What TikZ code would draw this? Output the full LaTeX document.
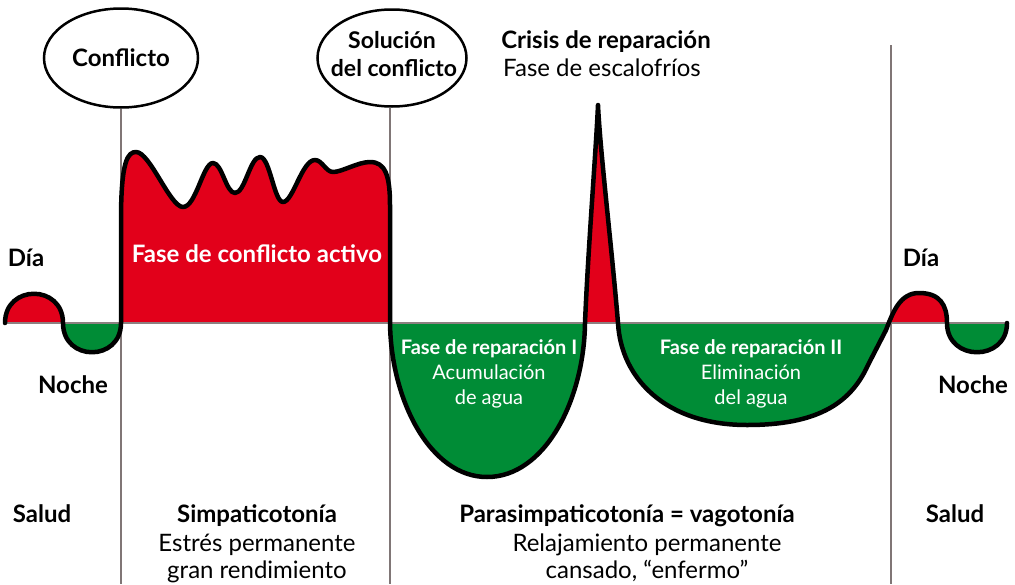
\documentclass[tikz,border=0pt]{standalone}
\usepackage{fontspec}
\setmainfont{Lato}
\usetikzlibrary{shapes.geometric}
\definecolor{myred}{RGB}{226,0,26}
\definecolor{mygreen}{RGB}{0,140,54}
\definecolor{vgray}{RGB}{128,118,118}
\definecolor{hgray}{RGB}{140,128,128}
\newcommand\wavecurve{(5,323) .. controls (5,284) and (63,284) .. (63,323)
 .. controls (63,362) and (121,362) .. (121,323)
 -- (121,220) .. controls (121,160) and (128,152) .. (136,152)
 .. controls (150,152) and (170,207) .. (183,207)
 .. controls (196,207) and (203,163) .. (213,163)
 .. controls (222,163) and (226,193) .. (235,193)
 .. controls (245,193) and (250,157) .. (260,157)
 .. controls (270,157) and (274,202) .. (283,202)
 .. controls (293,202) and (302,160) .. (315,160)
 .. controls (322,160) and (326,172) .. (333,172)
 .. controls (342,172) and (358,162) .. (370,162)
 .. controls (385,162) and (390,175) .. (390,205)
 -- (390,323)
 .. controls (391,400) and (430,477) .. (487,477)
 .. controls (545,477) and (584,400) .. (585,323)
 .. controls (588,250) and (596,150) .. (598,105)
 .. controls (600,150) and (612,250) .. (618,323)
 .. controls (621,378) and (665,425) .. (747,425)
 .. controls (815,425) and (850,405) .. (868,365)
 -- (886,330) .. controls (893,312) and (900,293) .. (919,293)
 .. controls (940,293) and (947,305) .. (947,323)
 .. controls (947,362) and (1007,362) .. (1007,323)}
\tikzset{
 bt/.style={font=\fontsize{24}{28}\selectfont\bfseries, inner sep=0pt, anchor=base},
 rt/.style={font=\fontsize{24}{28}\selectfont, inner sep=0pt, anchor=base},
 bm/.style={font=\fontsize{23}{28}\selectfont\bfseries, inner sep=0pt, anchor=base},
 bs/.style={font=\fontsize{20}{25}\selectfont\bfseries, inner sep=0pt, anchor=base, text=white},
 rs/.style={font=\fontsize{20}{25}\selectfont, inner sep=0pt, anchor=base, text=white},
 oval/.style={ellipse, draw=black, line width=2.5pt, inner sep=-30pt, align=center},
 vline/.style={draw=vgray, line width=2pt},
 hline/.style={draw=hgray, line width=2pt},
 wave/.style={draw=black, line width=4.5pt, line join=round, line cap=round}
}
\begin{document}
\begin{tikzpicture}[x=1pt,y=-1pt]
\useasboundingbox (0,0) rectangle (1015,584);
% fills
\begin{scope}
 \clip (0,0) rectangle (1015,323);
 \fill[myred] \wavecurve -- cycle;
\end{scope}
\begin{scope}
 \clip (0,323) rectangle (1015,584);
 \fill[mygreen] \wavecurve -- cycle;
\end{scope}
% ellipses
\node[oval, minimum width=154pt, minimum height=99pt, font=\fontsize{24}{28}\selectfont\bfseries] (conf) at (121,58) {\raisebox{-4pt}{Conflicto}};
\node[oval, minimum width=149pt, minimum height=97pt] (sol) at (392,58) {};
\node[bm] (sol1) at (392,48) {Solución};
\node[bm] (sol2) at (394,76) {del conflicto};
\coordinate (b1) at (121,584);
\coordinate (b2) at (390,584);
\coordinate (t3) at (891,45);
\coordinate (b3) at (891,584);
\coordinate (hl) at (3,323);
\coordinate (hr) at (1009,323);
\draw[vline] (conf.south) -- (b1);
\draw[vline] (sol.south -| b2) -- (b2);
\draw[vline] (t3) -- (b3);
\draw[hline] (hl) -- (hr);
\draw[wave] \wavecurve;
% texts
\node[bt] (crisis) at (606,48) {Crisis de reparación};
\node[rt] (escal) at (602,76) {Fase de escalofríos};
\node[bt] (dia1) at (26,266) {Día};
\node[bt] (noche1) at (73,393) {Noche};
\node[bt] (dia2) at (921,266) {Día};
\node[bt] (noche2) at (973,393) {Noche};
\node[bt, text=white] (fca) at (257,262) {Fase de conflicto activo};
\node[bs] (fr1) at (489,354) {Fase de reparación I};
\node[rs] (fr1b) at (489,379) {Acumulación};
\node[rs] (fr1c) at (489,404) {de agua};
\node[bs] (fr2) at (751,354) {Fase de reparación II};
\node[rs] (fr2b) at (751,379) {Eliminación};
\node[rs] (fr2c) at (751,404) {del agua};
\node[bt] (salud1) at (42,522) {Salud};
\node[bt] (salud2) at (955,522) {Salud};
\node[bt] (simp) at (257,522) {Simpaticotonía};
\node[rt] (simp2) at (257,551) {Estrés permanente};
\node[rt] (simp3) at (257,578) {gran rendimiento};
\node[bt] (para) at (627,522) {Parasimpaticotonía = vagotonía};
\node[rt] (para2) at (647,551) {Relajamiento permanente};
\node[rt] (para3) at (647,578) {cansado, “enfermo”};
\end{tikzpicture}
\end{document}
